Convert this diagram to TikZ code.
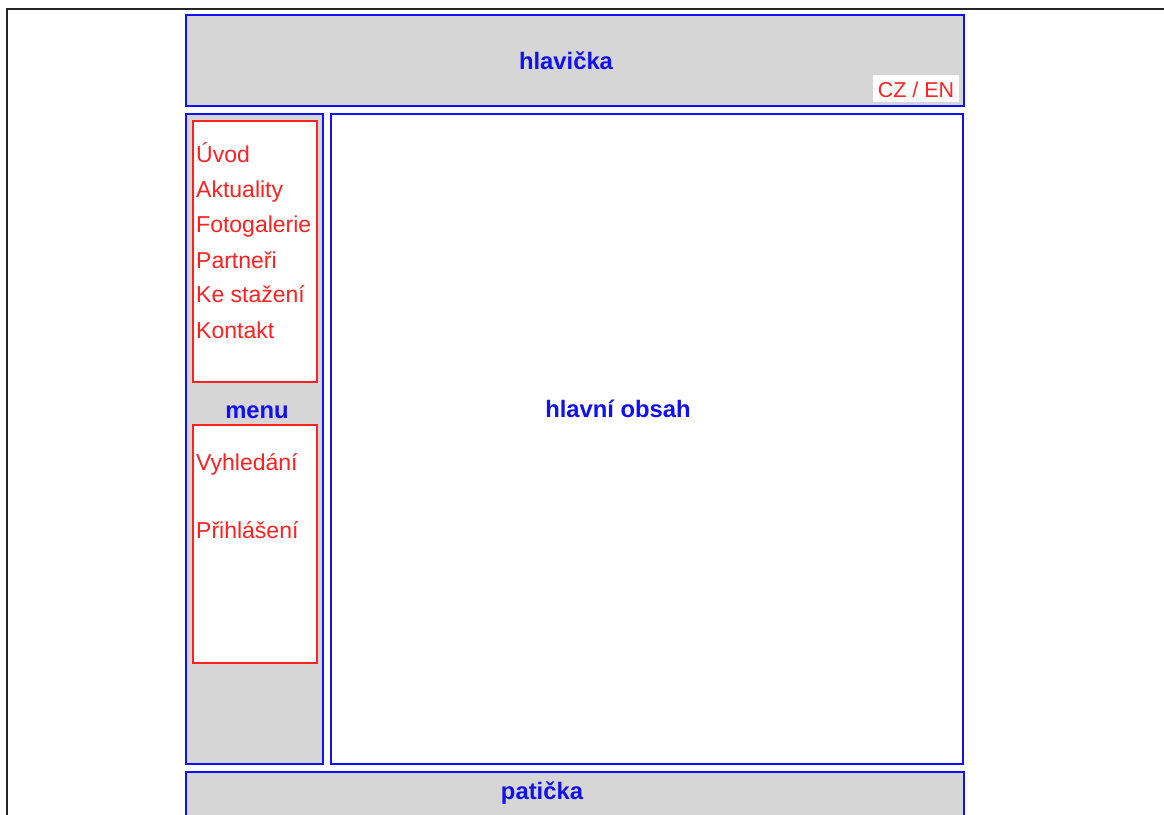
\documentclass[tikz,border=0pt]{standalone}
\usepackage{fontspec}
\setmainfont{Liberation Sans}
\definecolor{wblue}{HTML}{1010F0}
\definecolor{wred}{HTML}{FF2020}
\definecolor{wgray}{HTML}{D6D6D6}
\begin{document}
\begin{tikzpicture}[x=1pt,y=-1pt,
  bluebox/.style={draw=wblue,line width=2pt,inner sep=0pt},
  redbox/.style={draw=wred,line width=1.8pt,fill=white,inner sep=0pt},
  boldlbl/.style={text=wblue,font=\fontsize{23.8}{27}\selectfont\bfseries,inner sep=0pt,anchor=base},
  item/.style={text=wred,font=\fontsize{23}{26}\selectfont,inner sep=0pt,anchor=base west}]
\useasboundingbox (0,0) rectangle (1164,814);
\clip (0,0) rectangle (1164,814);
\fill[white] (0,0) rectangle (1164,814);
\draw[line width=2pt,black!85] (7,840) -- (7,9) -- (1180,9);
% header
\node[bluebox,fill=wgray,minimum width=778pt,minimum height=91pt,anchor=north west] (hdr) at (185,14) {};
\node[boldlbl] (hdrlbl) at (566,69) {hlavička};
\node[fill=white,minimum width=86pt,minimum height=27pt,inner sep=0pt,anchor=north west] (lang) at (873,75) {};
\node[text=wred,font=\fontsize{21.5}{25}\selectfont,inner sep=0pt,anchor=base] (langlbl) at (916,97) {CZ / EN};
% left column
\node[bluebox,fill=wgray,minimum width=137pt,minimum height=650pt,anchor=north west] (left) at (185,113) {};
\node[redbox,minimum width=124pt,minimum height=261pt,anchor=north west] (menu1) at (192,120) {};
\node[redbox,minimum width=124pt,minimum height=238pt,anchor=north west] (menu2) at (192,424) {};
\node[boldlbl] (menulbl) at (257,418) {menu};
\node[item] (uvod) at (196,162) {Úvod};
\node[item] (akt) at (196,197) {Aktuality};
\node[item] (foto) at (196,232) {Fotogalerie};
\node[item] (part) at (196,268) {Partneři};
\node[item] (stah) at (196,302) {Ke stažení};
\node[item] (kont) at (196,338) {Kontakt};
\node[item] (vyhl) at (196,470) {Vyhledání};
\node[item] (prihl) at (196,538) {Přihlášení};
% main content
\node[bluebox,fill=white,minimum width=632pt,minimum height=650pt,anchor=north west] (main) at (330,113) {};
\node[boldlbl] (mainlbl) at (618,417) {hlavní obsah};
% footer
\node[bluebox,fill=wgray,minimum width=778pt,minimum height=70pt,anchor=north west] (foot) at (185,771) {};
\node[boldlbl] (footlbl) at (542,799) {patička};
\end{tikzpicture}
\end{document}
